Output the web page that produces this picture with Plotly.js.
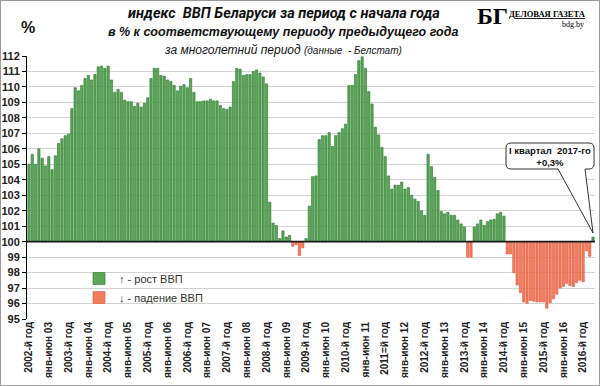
<!DOCTYPE html>
<html>
<head>
<meta charset="utf-8">
<script src="https://cdn.plot.ly/plotly-3.0.1.min.js"></script>
<style>
  html, body { margin: 0; padding: 0; background: #fff; }
  #wrap { position: relative; width: 600px; height: 386px; }
  #chart { width: 600px; height: 386px; }
  #frame { position: absolute; left: 0; top: 0; width: 600px; height: 386px; box-sizing: border-box; border: 1px solid #9a9a9a; pointer-events: none; }
</style>
</head>
<body>
<div id="wrap"><div id="chart"></div><div id="frame"></div></div>
<script>
// ---- DATA: cumulative GDP index, % of same period of previous year ----
const v2002 = [105.0];
const v2003 = [105.65, 105.0, 106.0, 105.4, 104.9, 105.5, 104.65, 105.55, 106.35, 106.65, 106.85, 106.95];
const v2004 = [108.6, 109.95, 109.75, 110.1, 110.55, 110.75, 110.45, 110.8, 111.3, 111.35, 111.2, 111.35];
const v2005 = [110.45, 109.65, 109.85, 109.65, 109.15, 109.05, 109.05, 108.75, 108.95, 108.7, 108.95, 109.3];
const v2006 = [110.55, 111.2, 111.2, 110.75, 110.7, 110.45, 110.35, 110.1, 109.75, 110.05, 110.15, 109.95];
const v2007 = [110.55, 109.65, 109.05, 109.05, 109.1, 109.1, 109.2, 109.1, 109.1, 108.8, 108.6, 108.55];
const v2008 = [108.7, 110.35, 111.2, 111.15, 110.75, 110.8, 110.8, 111.0, 111.1, 110.9, 110.65, 110.2];
const v2009 = [102.55, 101.2, 101.05, 100.2, 100.7, 100.3, 100.4, 99.7, 99.8, 99.1, 99.6, 100.2];
const v2010 = [102.3, 104.2, 104.25, 106.6, 106.85, 106.85, 107.05, 106.15, 106.85, 107.05, 107.3, 107.6];
const v2011 = [110.1, 110.1, 110.8, 111.7, 111.95, 111.2, 109.7, 108.9, 107.4, 106.9, 106.1, 105.5];
const v2012 = [104.25, 103.4, 103.65, 103.65, 103.85, 103.4, 103.5, 103.0, 102.75, 102.6, 102.0, 101.7];
const v2013 = [105.65, 104.85, 104.15, 103.3, 101.95, 101.8, 101.9, 101.7, 101.7, 101.4, 101.15, 100.95];
const v2014 = [99.0, 99.0, 100.95, 101.15, 101.4, 101.05, 101.3, 101.4, 101.45, 101.8, 101.9, 101.65];
const v2015 = [99.2, 99.2, 98.0, 97.2, 96.7, 96.1, 96.0, 96.2, 96.15, 96.1, 96.1, 96.1];
const v2016 = [95.7, 96.05, 96.3, 96.6, 97.0, 97.1, 97.3, 97.15, 97.1, 97.35, 97.5, 97.4];
const v2017 = [99.4, 99.05, 100.3];

// x-axis labels shown every 6th period (first label = year 2002)
const tickLabels = ["2002-й год","янв-июн 03","2003-й год","янв-июн 04","2004-й год","янв-июн 05",
  "2005-й год","янв-июн 06","2006-й год","янв-июн 07","2007-й год","янв-июн 08","2008-й год",
  "янв-июн 09","2009-й год","янв-июн 10","2010-й год","янв-июн 11","2011=й год","янв-июн 12",
  "2012-й год","янв-июн 13","2013-й год","янв-июн 14","2014-й год","янв-июн 15","2015-й год",
  "янв-июн 16","2016-й год"];
const labelStep = 6;
const baseLevel = 100;
const legendNames = ["↑ - рост ВВП", "↓ - падение ВВП"];

// ---- build ----
const values = [].concat(v2002, v2003, v2004, v2005, v2006, v2007, v2008, v2009,
                         v2010, v2011, v2012, v2013, v2014, v2015, v2016, v2017);
const xs = values.map((v, i) => i);
const upY = values.map(v => v >= baseLevel ? v - baseLevel : null);
const downY = values.map(v => v < baseLevel ? v - baseLevel : null);
const tickvals = tickLabels.map((t, i) => i * labelStep);

const W = 600, H = 386, M = {l: 27, r: 5, t: 56, b: 67};
const PW = W - M.l - M.r, PH = H - M.t - M.b;
const pX = x => (x - M.l) / PW;
const pY = y => (H - M.b - y) / PH;

const FONT = "'Liberation Sans', Arial, sans-serif";
const NARROW = "Roboto, 'Liberation Sans', sans-serif";
const SERIF = "'Liberation Serif', 'DejaVu Serif', serif";
const lastI = values.length - 1, lastV = values[lastI];

const traces = [
  { type: 'bar', x: xs, y: upY, base: baseLevel, name: legendNames[0],
    marker: { color: '#58a656', line: { color: '#2d7a2d', width: 0.6 } }, hoverinfo: 'skip' },
  { type: 'bar', x: xs, y: downY, base: baseLevel, name: legendNames[1],
    marker: { color: '#f47a5c', line: { color: '#e0583c', width: 0.6 } }, hoverinfo: 'skip' }
];

function txt(x, y, text, font) {
  return { xref: 'paper', yref: 'paper', x: pX(x), y: pY(y), xanchor: 'center', yanchor: 'middle',
           showarrow: false, text: text, font: font };
}

const layout = {
  width: W, height: H, margin: M,
  paper_bgcolor: '#fff', plot_bgcolor: '#fff',
  barmode: 'overlay', bargap: 0.3,
  showlegend: true,
  font: { family: FONT, color: '#222' },
  title: { text: '<b><i>индекс&nbsp; ВВП Беларуси за период с начала года</i></b>',
           xref: 'container', yref: 'container', x: 284 / W, y: 1 - 13 / H,
           xanchor: 'center', yanchor: 'middle', font: { size: 14.5, family: NARROW, color: '#111' } },
  legend: { x: pX(79), y: pY(264), xanchor: 'left', yanchor: 'top',
            bgcolor: 'rgba(0,0,0,0)', font: { size: 11, family: FONT, color: '#333' },
            tracegroupgap: 4, itemwidth: 30 },
  xaxis: { range: [-0.6, lastI + 0.6], tickmode: 'array', tickvals: tickvals, ticktext: tickLabels,
           tickangle: -90, showgrid: false, zeroline: false, showline: false, ticks: '',
           tickfont: { size: 10, family: FONT, color: '#222', weight: 'bold' } },
  yaxis: { range: [95, 112], dtick: 1, showgrid: true, gridcolor: '#d3d3d3', gridwidth: 1,
           zeroline: false, showline: true, linecolor: '#000', linewidth: 1,
           ticks: 'outside', ticklen: 4, tickcolor: '#000',
           tickfont: { size: 11, family: FONT, color: '#222', weight: 'bold' } },
  shapes: [
    { type: 'line', xref: 'paper', x0: 0, x1: 1, yref: 'y', y0: baseLevel, y1: baseLevel,
      line: { color: '#1a1a1a', width: 1.6 }, layer: 'above' },
    { type: 'path', xref: 'x', yref: 'y', xsizemode: 'pixel', ysizemode: 'pixel',
      xanchor: lastI, yanchor: lastV,
      path: 'M -35,68 L -82,68 Q -87,68 -87,73 L -87,89 Q -87,94 -82,94 L -4,94 Q 1,94 1,89 L 1,73 Q 1,68 -4,68 L -8,68 L 0,4 Z',
      fillcolor: '#fff', line: { color: '#333', width: 1 }, layer: 'above' }
  ],
  annotations: [
    txt(283, 32, '<b><i>в % к соответствующему периоду предыдущего года</i></b>',
        { size: 12.5, family: FONT, color: '#111' }),
    txt(283, 50, '<i>за многолетний период <span style="font-size:10px">(данные&nbsp; - Белстат)</span></i>',
        { size: 12, family: FONT, color: '#111' }),
    txt(28, 28, '<b>%</b>', { size: 16, family: FONT, color: '#111' }),
    txt(492, 16, '<b>БГ</b>', { size: 24, family: SERIF, color: '#000' }),
    txt(547, 14, '<b><span style="text-decoration:underline">ДЕЛОВАЯ ГАЗЕТА</span></b>',
        { size: 8.5, family: SERIF, color: '#000' }),
    txt(573, 25, 'bdg.by', { size: 8, family: SERIF, color: '#000' }),
    { xref: 'x', yref: 'y', x: lastI, y: lastV, xshift: -43, yshift: 81,
      xanchor: 'center', yanchor: 'middle', showarrow: false,
      text: '<b>I квартал&nbsp; 2017-го<br>+0,3%</b>',
      font: { size: 9.5, family: FONT, color: '#111' } }
  ]
};

Plotly.newPlot('chart', traces, layout, { staticPlot: true, displayModeBar: false });
</script>
</body>
</html>
